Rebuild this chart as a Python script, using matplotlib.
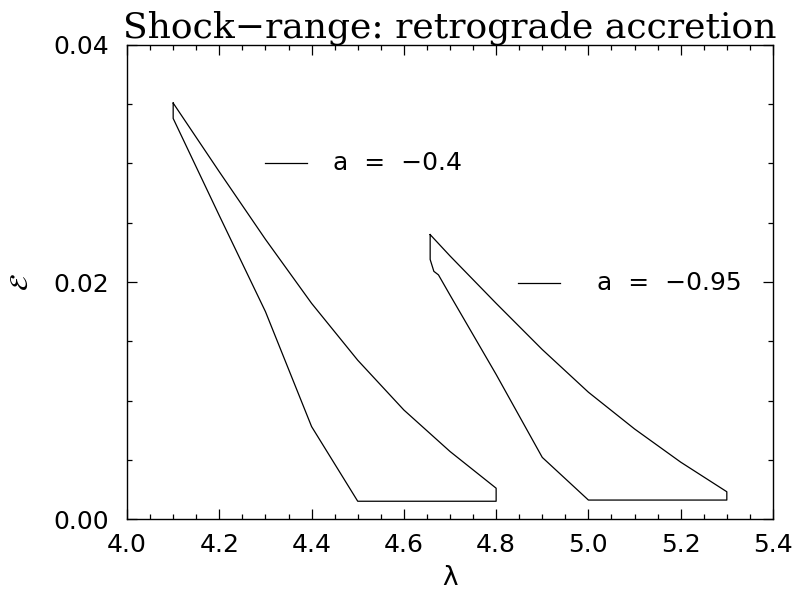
import numpy as np
import matplotlib
matplotlib.use("Agg")
import matplotlib.pyplot as plt
from matplotlib.ticker import MultipleLocator

# ── Data ───────────────────────────────────────────────────────────────────
# a = -0.4 : closed shock-range region
lam_up_04  = [4.10, 4.20, 4.30, 4.40, 4.50, 4.60, 4.70, 4.80]
eps_up_04  = [0.0351, 0.0293, 0.0236, 0.0182, 0.0134, 0.0092, 0.0057, 0.0026]
lam_lo_04  = [4.10, 4.20, 4.30, 4.40, 4.50]
eps_lo_04  = [0.0338, 0.0256, 0.0175, 0.0078, 0.0015]
eps_floor_04 = 0.0015

# a = -0.95
lam_up_095 = [4.657, 4.70, 4.80, 4.90, 5.00, 5.10, 5.20, 5.30]
eps_up_095 = [0.0240, 0.0222, 0.0182, 0.0143, 0.0107, 0.0076, 0.0048, 0.0023]
lam_lo_095 = [4.657, 4.665, 4.675, 4.70, 4.80, 4.90, 5.00]
eps_lo_095 = [0.0219, 0.0209, 0.0206, 0.0189, 0.0122, 0.0052, 0.0016]
eps_floor_095 = 0.0016

labels = ["a  =  \u22120.4", "a  =  \u22120.95"]
# legend anchors in data coords: (line x0, line x1, y, text x)
legend_pos = [(4.299, 4.390, 0.0300, 4.446),
              (4.847, 4.938, 0.0199, 5.019)]

xticks = [4.0, 4.2, 4.4, 4.6, 4.8, 5.0, 5.2, 5.4]
yticks = [0.00, 0.02, 0.04]


def closed_region(lam_up, eps_up, lam_lo, eps_lo, floor):
    # upper curve left->right, drop to floor, floor back, lower curve up
    xs = list(lam_up) + [lam_up[-1], lam_lo[-1]] + list(lam_lo[::-1])
    ys = list(eps_up) + [floor, floor] + list(eps_lo[::-1])
    xs.append(lam_up[0]); ys.append(eps_up[0])
    return xs, ys


fig = plt.figure(figsize=(7.94, 5.95), dpi=100)
ax = fig.add_axes([0.160, 0.1277, 0.8135, 0.7967])

regions = [
    closed_region(lam_up_04, eps_up_04, lam_lo_04, eps_lo_04, eps_floor_04),
    closed_region(lam_up_095, eps_up_095, lam_lo_095, eps_lo_095, eps_floor_095),
]
for (xs, ys), lab, (x0, x1, yl, xt) in zip(regions, labels, legend_pos):
    ax.plot(xs, ys, color="black", lw=0.9)
    ax.plot([x0, x1], [yl, yl], color="black", lw=0.9)
    ax.text(xt, yl, lab, fontsize=18, va="center", ha="left",
            family="DejaVu Sans")

ax.set_xlim(4.0, 5.4)
ax.set_ylim(0.0, 0.04)
ax.xaxis.set_minor_locator(MultipleLocator(0.05))
ax.yaxis.set_minor_locator(MultipleLocator(0.005))
ax.set_xticks(xticks)
ax.set_xticklabels([f"{v:.1f}" for v in xticks])
ax.set_yticks(yticks)
ax.set_yticklabels([f"{v:.2f}" for v in yticks])

ax.tick_params(which="both", direction="in", top=True, right=True,
               labelsize=18, width=0.9)
ax.tick_params(axis="x", pad=10)
ax.tick_params(axis="y", pad=13)
ax.tick_params(which="major", length=7)
ax.tick_params(which="minor", length=3.5)
for s in ax.spines.values():
    s.set_linewidth(1.0)

ax.set_xlabel("\u03bb", fontsize=19, labelpad=6)
ax.set_ylabel(r"$\mathcal{E}$", fontsize=19, rotation=90, labelpad=14)
ax.set_title("Shock\u2212range: retrograde accretion", fontsize=26,
             family="DejaVu Serif", pad=3)

fig.savefig("out.png", dpi=100)
